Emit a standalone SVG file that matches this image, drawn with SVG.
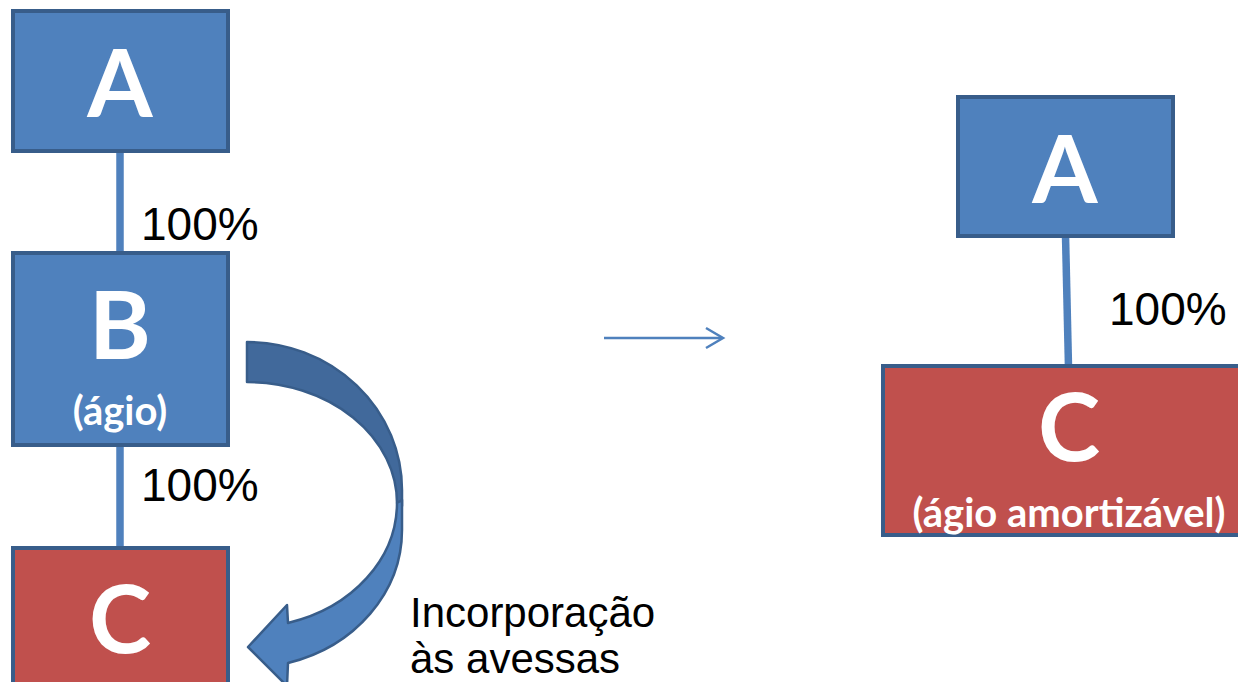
<svg xmlns="http://www.w3.org/2000/svg" width="1238" height="682" viewBox="0 0 1238 682">
  <style>
    .box-blue { fill: #4f81bd; stroke: #385d8a; stroke-width: 4; }
    .box-red { fill: #c0504d; stroke: #385d8a; stroke-width: 4; }
    .big { font-family: Lato, "Open Sans", sans-serif; font-weight: 700; font-size: 94px; fill: #ffffff; text-anchor: middle; }
    .sub { font-family: Lato, "Open Sans", sans-serif; font-weight: 700; font-size: 40px; fill: #ffffff; text-anchor: middle; }
    .pct { font-family: "Liberation Sans", Arial, sans-serif; font-size: 46px; fill: #000000; }
    .note { font-family: "Liberation Sans", Arial, sans-serif; font-size: 42px; fill: #000000; }
    .link { stroke: #4f81bd; stroke-width: 7.5; fill: none; }
    .thin { stroke: #4f81bd; stroke-width: 2.5; fill: none; }
    .curve { stroke: #385d8a; stroke-width: 2.5; stroke-linejoin: round; }
  </style>

  <!-- connectors -->
  <g id="connectors">
    <line class="link" x1="120" y1="150" x2="120" y2="254"/>
    <line class="link" x1="120" y1="444" x2="120" y2="549"/>
    <line class="link" x1="1065.5" y1="235" x2="1068.5" y2="367"/>
    <text class="pct" x="141" y="240">100%</text>
    <text class="pct" x="141" y="501">100%</text>
    <text class="pct" x="1109" y="325">100%</text>
    <!-- transition arrow -->
    <line class="thin" x1="604" y1="338" x2="722" y2="338"/>
    <polyline class="thin" points="706,328 723,338 706,348"/>
    <!-- curved arrow: back face then front face -->
    <path class="curve" fill="#41699b" d="M247,342 A155,148 0 0 1 402,490 L402,506 L397,503 A150,121 0 0 0 247,382 Z"/>
    <path class="curve" fill="#4f81bd" d="M402,500 L402,530 A155,138 0 0 1 288,663 L287,686 L248,647 L287,605 L288,623 A150,125 0 0 0 397,503 Z"/>
    <text class="note" x="410" y="627">Incorporação</text>
    <text class="note" x="410" y="673">às avessas</text>
  </g>

  <!-- left structure -->
  <g id="node-A-left">
    <rect class="box-blue" x="13" y="11" width="215" height="140"/>
    <text class="big" x="120" y="117">A</text>
  </g>
  <g id="node-B-left">
    <rect class="box-blue" x="13" y="253" width="215" height="192"/>
    <text class="big" x="120" y="359">B</text>
    <text class="sub" x="120" y="425">(ágio)</text>
  </g>
  <g id="node-C-left">
    <rect class="box-red" x="13" y="548" width="215" height="160"/>
    <text class="big" x="120" y="653">C</text>
  </g>

  <!-- right structure -->
  <g id="node-A-right">
    <rect class="box-blue" x="958" y="97" width="215" height="139"/>
    <text class="big" x="1065" y="203">A</text>
  </g>
  <g id="node-C-right">
    <rect class="box-red" x="883" y="366" width="373" height="169"/>
    <text class="big" x="1069" y="461">C</text>
    <text class="sub" x="1069" y="527">(ágio amortizável)</text>
  </g>
</svg>
